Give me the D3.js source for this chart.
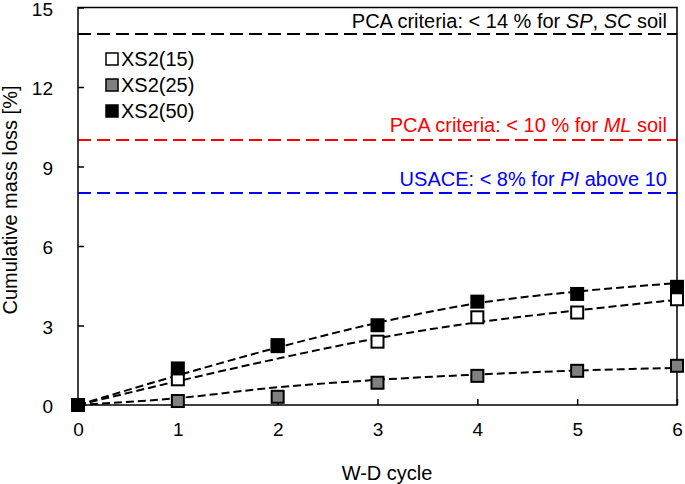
<!DOCTYPE html>
<html><head><meta charset="utf-8">
<script src="https://cdn.jsdelivr.net/npm/d3@7"></script>
<style>
html,body{margin:0;padding:0;background:#fff;}
text{font-family:"Liberation Sans",Arial,Helvetica,sans-serif;}
</style></head>
<body><svg id="c" width="685" height="484"></svg>
<script>
// ---- data ----
const cycles = [0, 1, 2, 3, 4, 5, 6];
const seriesNames = ["XS2(15)", "XS2(25)", "XS2(50)"];
const seriesFill = ["#ffffff", "#808080", "#000000"];
const xs2_15 = [0, 0.97, 2.22, 2.39, 3.31, 3.49, 3.99];
const xs2_25 = [0, 0.15, 0.31, 0.84, 1.10, 1.29, 1.48];
const xs2_50 = [0, 1.38, 2.26, 3.01, 3.90, 4.19, 4.46];
// fitted trend lines, read at each cycle
const trend_15 = [0, 0.90, 1.75, 2.52, 3.12, 3.57, 3.97];
const trend_25 = [0, 0.26, 0.67, 0.95, 1.15, 1.30, 1.40];
const trend_50 = [0, 1.12, 2.17, 3.10, 3.84, 4.28, 4.60];
const xTicks = [0, 1, 2, 3, 4, 5, 6];
const yTicks = [0, 3, 6, 9, 12, 15];
const criteriaValues = [14, 10, 8];
const criteriaColors = ["#000000", "#ff0000", "#0000ff"];
const xTitle = "W-D cycle";
const yTitle = "Cumulative mass loss [%]";

// ---- layout ----
const svg = d3.select("#c");
const L = 78, R = 677, T = 7.5, B = 405;
const x = d3.scaleLinear().domain([0, 6]).range([L, R]);
const y = d3.scaleLinear().domain([0, 15]).range([B, T]);
const FS = 20, TFS = 19;

// criteria lines
criteriaValues.forEach((v, i) => {
  svg.append("line").attr("x1", L).attr("x2", R).attr("y1", y(v)).attr("y2", y(v))
    .attr("stroke", criteriaColors[i]).attr("stroke-width", 2).attr("stroke-dasharray", "13,6");
});
// criteria labels (with italic parts)
const critLabels = [
  [["PCA criteria: < 14 % for ", false], ["SP", true], [", ", false], ["SC", true], [" soil", false]],
  [["PCA criteria: < 10 % for ", false], ["ML", true], [" soil", false]],
  [["USACE: < 8% for ", false], ["PI", true], [" above 10", false]]
];
const critBaseline = [28, 132, 186];
critLabels.forEach((parts, i) => {
  const t = svg.append("text").attr("x", 667).attr("y", critBaseline[i]).attr("text-anchor", "end")
    .attr("font-size", FS).attr("fill", criteriaColors[i]);
  parts.forEach(p => {
    t.append("tspan").text(p[0]).attr("font-style", p[1] ? "italic" : "normal");
  });
});

// trend lines
const line = d3.line().x((d, i) => x(cycles[i])).y(d => y(d)).curve(d3.curveMonotoneX);
[trend_15, trend_25, trend_50].forEach(tr => {
  svg.append("path").attr("d", line(tr)).attr("fill", "none").attr("stroke", "#000")
    .attr("stroke-width", 2).attr("stroke-dasharray", "8,4");
});

// frame
svg.append("rect").attr("x", L).attr("y", T).attr("width", R - L).attr("height", B - T)
  .attr("fill", "none").attr("stroke", "#000").attr("stroke-width", 1.5);

// axes ticks (inward)
const yAxis = d3.axisLeft(y).tickValues(yTicks).tickFormat(d3.format("d"))
  .tickSizeInner(-6).tickSizeOuter(0).tickPadding(25);
const gy = svg.append("g").attr("transform", `translate(${L},0)`).call(yAxis);
gy.select(".domain").remove();
gy.selectAll("line").attr("stroke-width", 1.5);
gy.selectAll("text").attr("font-size", TFS).attr("fill", "#000").attr("font-family", null).attr("dy", "0.42em");

const xAxis = d3.axisBottom(x).tickValues(xTicks).tickFormat(d3.format("d"))
  .tickSizeInner(-6).tickSizeOuter(0).tickPadding(18);
const gx = svg.append("g").attr("transform", `translate(0,${B})`).call(xAxis);
gx.select(".domain").remove();
gx.selectAll("line").attr("stroke-width", 1.5);
gx.selectAll("text").attr("font-size", TFS).attr("fill", "#000").attr("font-family", null);

// markers
const S = 12;
[xs2_15, xs2_25, xs2_50].forEach((vals, si) => {
  svg.append("g").selectAll("rect").data(vals).join("rect")
    .attr("x", (d, i) => x(cycles[i]) - S / 2).attr("y", d => y(d) - S / 2)
    .attr("width", S).attr("height", S)
    .attr("fill", seriesFill[si]).attr("stroke", "#000").attr("stroke-width", 2);
});

// legend
seriesNames.forEach((n, i) => {
  const cy = 59 + i * 26;
  svg.append("rect").attr("x", 106).attr("y", cy - 6).attr("width", 12).attr("height", 12)
    .attr("fill", seriesFill[i]).attr("stroke", "#000").attr("stroke-width", 1.5);
  svg.append("text").attr("x", 121).attr("y", cy + 7).attr("font-size", FS).text(n);
});

// titles
svg.append("text").attr("x", 387).attr("y", 480).attr("text-anchor", "middle").attr("font-size", FS).text(xTitle);
svg.append("text").attr("transform", "translate(17,200) rotate(-90)").attr("text-anchor", "middle")
  .attr("font-size", FS).text(yTitle);
</script></body></html>
